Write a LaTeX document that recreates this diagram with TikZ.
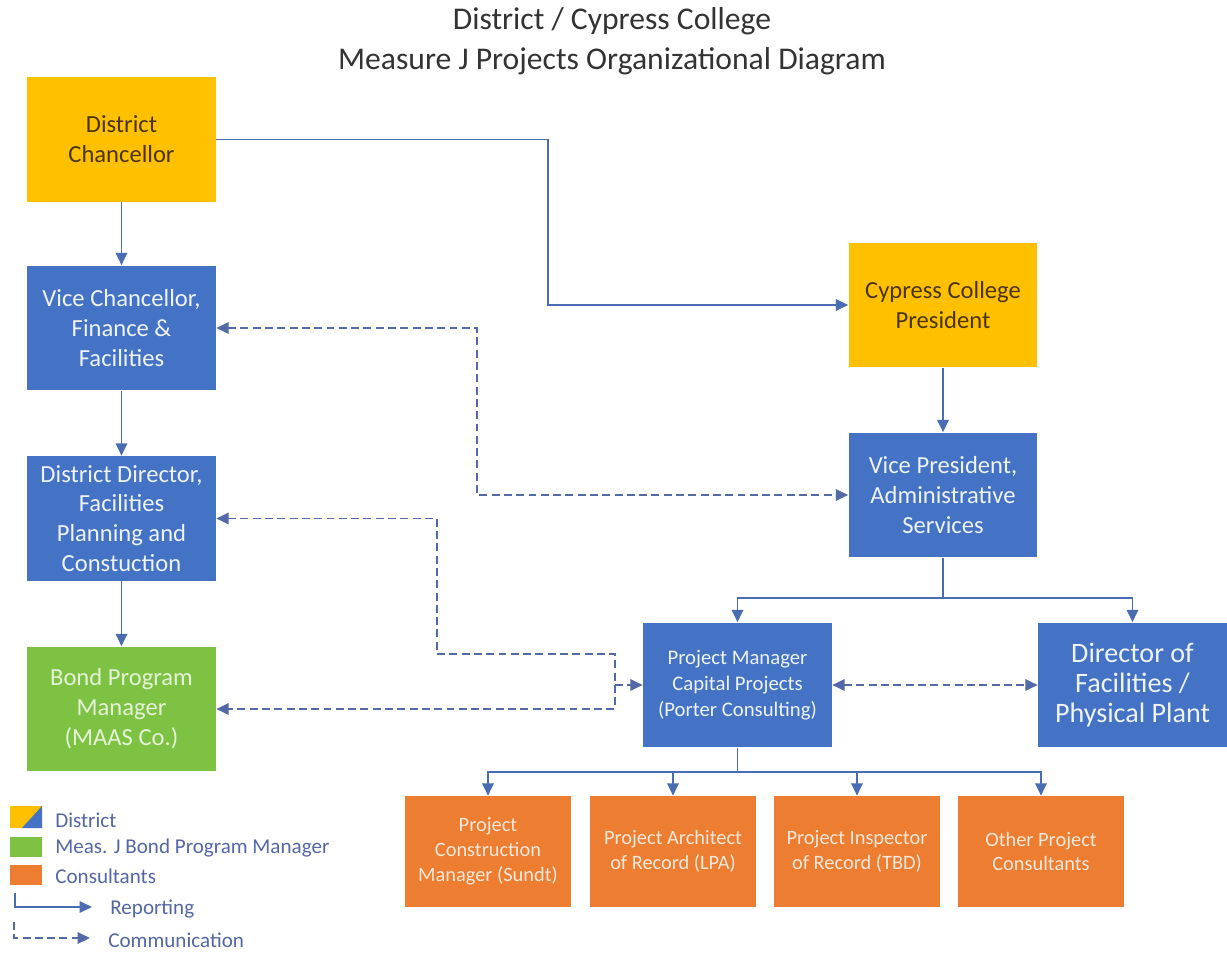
\documentclass[tikz,border=0pt]{standalone}
\usepackage{fontspec}
\setmainfont{Carlito}
\usetikzlibrary{arrows.meta}
\definecolor{cyel}{HTML}{FFC000}
\definecolor{cblue}{HTML}{4472C4}
\definecolor{cgreen}{HTML}{7EC244}
\definecolor{corange}{HTML}{ED7D31}
\definecolor{cline}{HTML}{4A6CB2}
\definecolor{cdash}{HTML}{5469A8}
\definecolor{clegend}{HTML}{5566A6}
\definecolor{cdark}{HTML}{4A3500}
\definecolor{cwhite}{HTML}{EEF2FA}
\definecolor{cgtext}{HTML}{E4F2D6}
\definecolor{cotext}{HTML}{FCE8DA}
\tikzset{
  box/.style={draw=none, inner sep=0pt, align=center, minimum width=3.78cm, minimum height=2.5cm, font=\fontsize{14}{17}\selectfont},
  ybox/.style={box, fill=cyel, text=cdark},
  bbox/.style={box, fill=cblue, text=cwhite},
  gbox/.style={box, fill=cgreen, text=cgtext},
  obox/.style={box, fill=corange, text=cotext, minimum width=3.32cm, minimum height=2.22cm, font=\fontsize{11.6}{14.2}\selectfont},
  rep/.style={draw=cline, line width=1.1pt, -{Triangle[length=7pt,width=6.5pt]}},
  comm/.style={draw=cdash, line width=1.1pt, dash pattern=on 4.5pt off 2.5pt},
  legtext/.style={text=clegend, anchor=west, inner sep=0pt, font=\fontsize{12}{14}\selectfont},
}
\begin{document}
\begin{tikzpicture}[x=0.02cm, y=-0.02cm]
\useasboundingbox (0,0) rectangle (1227,953);
\fill[white] (0,0) rectangle (1227,953);
% title
\node[font=\fontsize{18}{23}\selectfont, text=black!80, align=center] (title) at (612,41) {District / Cypress College\\Measure J Projects Organizational Diagram};
% boxes
\node[ybox] (chan) at (121.5,139.5) {District\\Chancellor};
\node[bbox] (vc) at (121.5,328) {Vice Chancellor,\\Finance \&\\Facilities};
\node[bbox] (dd) at (121.5,518.5) {District Director,\\Facilities\\Planning and\\Constuction};
\node[gbox] (bond) at (121.5,709) {Bond Program\\Manager\\(MAAS Co.)};
\node[ybox] (pres) at (943,305) {Cypress College\\President};
\node[bbox] (vp) at (943,495) {Vice President,\\Administrative\\Services};
\node[bbox, font=\fontsize{11.8}{14.8}\selectfont] (pm) at (737.5,685) {Project Manager\\Capital Projects\\(Porter Consulting)};
\node[bbox, font=\fontsize{16}{17}\selectfont] (dir) at (1132.5,685) {Director of\\Facilities /\\Physical Plant};
\node[obox] (o1) at (488,851.5) {Project\\Construction\\Manager (Sundt)};
\node[obox] (o2) at (673,851.5) {Project Architect\\of Record (LPA)};
\node[obox] (o3) at (857,851.5) {Project Inspector\\of Record (TBD)};
\node[obox] (o4) at (1041,851.5) {Other Project\\Consultants};
% reporting lines
\coordinate (j1) at (548,200);
\draw[rep] (chan) -- (vc);
\draw[rep] (vc) -- (dd);
\draw[rep] (dd) -- (bond);
\draw[rep] (chan.east) -| (j1) |- (pres.west);
\draw[rep] (pres) -- (vp);
\draw[rep] (vp.south) -- ++(0,40) -| (pm.north);
\draw[rep] (vp.south) -- ++(0,40) -| (dir.north);
\draw[rep] (pm.south) -- ++(0,24) -| (o1.north);
\draw[rep] (pm.south) -- ++(0,24) -| (o2.north);
\draw[rep] (pm.south) -- ++(0,24) -| (o3.north);
\draw[rep] (pm.south) -- ++(0,24) -| (o4.north);
% communication lines
\coordinate (c1) at (477,400);
\draw[comm, {Triangle[length=7pt,width=6.5pt]}-{Triangle[length=7pt,width=6.5pt]}] (vc.east) -| (c1) |- (vp.west);
\coordinate (c2) at (437,600);
\coordinate (c3) at (615,654);
\coordinate (c4) at (615,709);
\draw[comm, {Triangle[length=7pt,width=6.5pt]}-{Triangle[length=7pt,width=6.5pt]}] (dd.east) -| (c2) |- (c3) -- (c4) -- (bond.east);
\draw[comm, -{Triangle[length=7pt,width=6.5pt]}] (c3 |- pm.west) -- (pm.west);
\draw[comm, {Triangle[length=7pt,width=6.5pt]}-{Triangle[length=7pt,width=6.5pt]}] (pm.east) -- (dir.west);
% legend
\fill[cyel] (10,806) rectangle (42,828);
\fill[cblue] (42,806) -- (42,828) -- (22,828) -- cycle;
\fill[cgreen] (10,837) rectangle (42,857);
\fill[corange] (10,865) rectangle (42,885);
\node[legtext] (l1) at (55,820) {District};
\node[legtext] (l2) at (55,848) {Meas. J Bond Program Manager};
\node[legtext] (l3) at (55,876) {Consultants};
\coordinate (r0) at (15,893);
\coordinate (r1) at (92,907);
\draw[rep, line width=0.9pt] (r0) |- (r1);
\node[legtext] (l4) at (110,909) {Reporting};
\coordinate (m0) at (14,922);
\coordinate (m1) at (90,938);
\draw[comm, line width=0.9pt, -{Triangle[length=7pt,width=6.5pt]}] (m0) |- (m1);
\node[legtext] (l5) at (108,940) {Communication};
\end{tikzpicture}
\end{document}
